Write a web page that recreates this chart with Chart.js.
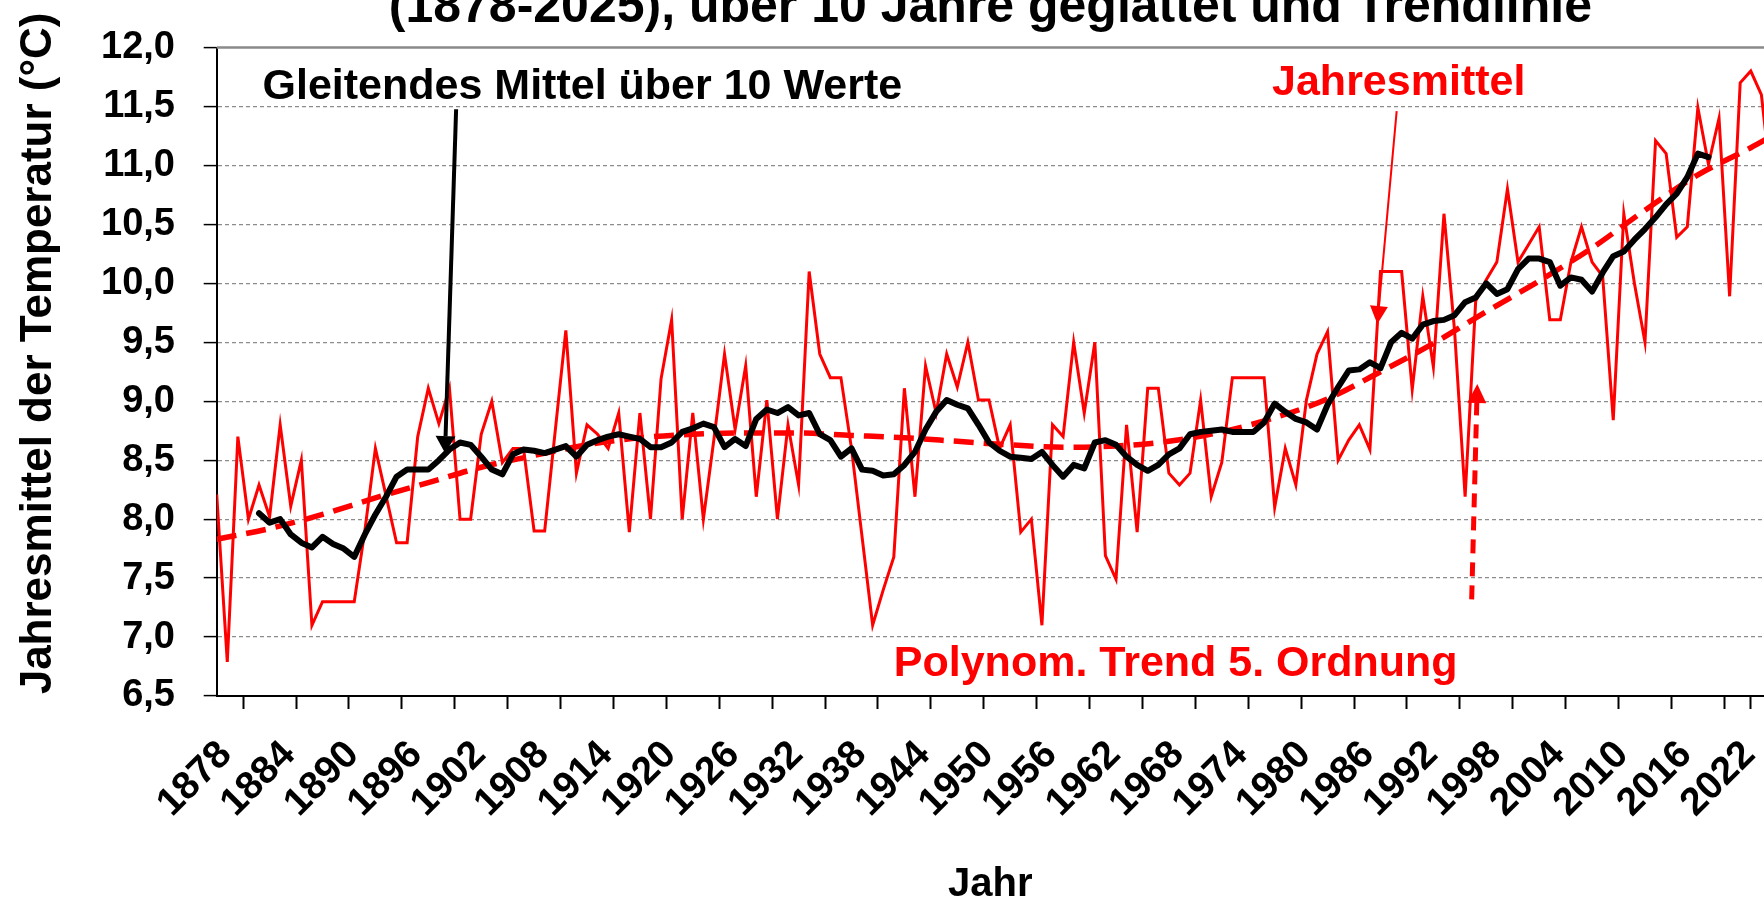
<!DOCTYPE html>
<html>
<head>
<meta charset="utf-8">
<script src="https://cdn.jsdelivr.net/npm/chart.js"></script>
<style>
  html, body { margin: 0; padding: 0; background: #fff; overflow: hidden; }
  #wrap { width: 1764px; height: 903px; }
</style>
</head>
<body>
<div id="wrap"><canvas id="c" width="1764" height="903"></canvas></div>
<script>
// ---------------- data ----------------
const firstYear = 1878;
// Jahresmittel (°C), 1878 … 2025
const annualMean = [
  8.21, 6.79, 8.70, 8.00, 8.29, 8.02, 8.80, 8.11, 8.50, 7.10,
  7.30, 7.30, 7.30, 7.30, 7.90, 8.60, 8.20, 7.80, 7.80, 8.70,
  9.11, 8.81, 9.11, 8.00, 8.00, 8.72, 9.00, 8.48, 8.60, 8.60,
  7.90, 7.90, 8.75, 9.60, 8.39, 8.80, 8.72, 8.60, 8.90, 7.89,
  8.90, 8.00, 9.19, 9.69, 8.00, 8.90, 8.00, 8.68, 9.40, 8.76,
  9.30, 8.19, 9.01, 8.00, 8.80, 8.29, 10.10, 9.40, 9.20, 9.20,
  8.60, 7.85, 7.10, 7.40, 7.68, 9.11, 8.19, 9.30, 8.90, 9.40,
  9.12, 9.50, 9.01, 9.01, 8.60, 8.80, 7.89, 8.00, 7.10, 8.80,
  8.70, 9.50, 8.90, 9.50, 7.69, 7.49, 8.80, 7.89, 9.11, 9.11,
  8.39, 8.29, 8.39, 9.01, 8.19, 8.48, 9.20, 9.20, 9.20, 9.20,
  8.10, 8.60, 8.29, 9.01, 9.40, 9.59, 8.50, 8.67, 8.80, 8.59,
  10.10, 10.10, 10.10, 9.10, 9.89, 9.29, 10.59, 9.60, 8.19, 9.85,
  10.03, 10.18, 10.80, 10.18, 10.33, 10.48, 9.69, 9.69, 10.18, 10.48,
  10.18, 10.06, 8.84, 10.59, 10.00, 9.50, 11.21, 11.10, 10.39, 10.48,
  11.49, 11.01, 11.40, 9.89, 11.70, 11.80, 11.60, 10.80
];
const years = annualMean.map((_, i) => firstYear + i);

// Gleitendes Mittel über 10 Werte, 1882 … 2019
const movingAvgStart = 1882;
const movingAvg = [
  8.05, 7.97, 8.00, 7.87, 7.80, 7.76, 7.85, 7.79, 7.75, 7.68,
  7.87, 8.04, 8.19, 8.36, 8.42, 8.42, 8.42, 8.50, 8.59, 8.65,
  8.63, 8.53, 8.42, 8.38, 8.55, 8.59, 8.58, 8.56, 8.59, 8.62,
  8.53, 8.63, 8.67, 8.70, 8.72, 8.70, 8.68, 8.61, 8.61, 8.65,
  8.74, 8.77, 8.81, 8.78, 8.61, 8.68, 8.62, 8.85, 8.93, 8.90,
  8.95, 8.88, 8.90, 8.72, 8.67, 8.53, 8.60, 8.42, 8.41, 8.37,
  8.38, 8.46, 8.57, 8.76, 8.91, 9.01, 8.97, 8.94, 8.80, 8.65,
  8.58, 8.53, 8.52, 8.51, 8.57, 8.46, 8.36, 8.46, 8.43, 8.65,
  8.67, 8.63, 8.53, 8.46, 8.41, 8.46, 8.55, 8.60, 8.72, 8.74,
  8.75, 8.76, 8.74, 8.74, 8.74, 8.82, 8.98, 8.91, 8.85, 8.82,
  8.76, 8.97, 9.12, 9.26, 9.27, 9.33, 9.28, 9.50, 9.58, 9.53,
  9.65, 9.68, 9.69, 9.73, 9.84, 9.88, 10.00, 9.91, 9.95, 10.12,
  10.21, 10.21, 10.18, 9.98, 10.05, 10.03, 9.93, 10.09, 10.23, 10.27,
  10.37, 10.46, 10.56, 10.67, 10.76, 10.90, 11.10, 11.07
];
const movingAvgYears = movingAvg.map((_, i) => movingAvgStart + i);

// Polynom. Trend 5. Ordnung
const trendYears = [1878, 1883, 1888, 1893, 1898, 1903, 1908, 1913, 1918, 1923, 1928, 1933, 1938, 1943, 1948,
  1953, 1958, 1963, 1968, 1973, 1978, 1983, 1988, 1993, 1998, 2003, 2008, 2013, 2018, 2023, 2025];
const trendValues = [7.83, 7.92, 8.04, 8.18, 8.31, 8.44, 8.54, 8.63, 8.69, 8.72, 8.73, 8.73, 8.71, 8.69, 8.66,
  8.63, 8.61, 8.62, 8.66, 8.74, 8.86, 9.02, 9.25, 9.49, 9.76, 10.02, 10.30, 10.62, 10.92, 11.15, 11.25];

// axis
const labelYears = [1878, 1884, 1890, 1896, 1902, 1908, 1914, 1920, 1926, 1932, 1938, 1944, 1950,
  1956, 1962, 1968, 1974, 1980, 1986, 1992, 1998, 2004, 2010, 2016, 2022];
const tickMarkYears = [1880.5, 1885.5, 1890.5, 1895.5, 1900.5, 1905.5, 1910.5, 1915.5, 1920.5, 1925.5,
  1930.5, 1935.5, 1940.5, 1945.5, 1950.5, 1955.5, 1960.5, 1965.5, 1970.5, 1975.5, 1980.5, 1985.5,
  1990.5, 1995.5, 2000.5, 2005.5, 2010.5, 2015.5, 2020.5, 2023];
const yTickLabels = ['6,5','7,0','7,5','8,0','8,5','9,0','9,5','10,0','10,5','11,0','11,5','12,0'];

// ---------------- texts / annotations ----------------
const TITLE = '(1878-2025), über 10 Jahre geglättet und Trendlinie';
const FONT = "'Liberation Sans', Arial, Helvetica, sans-serif";

const notes = [
  { text: 'Gleitendes Mittel über 10 Werte', x: 1882.33, y: 11.563, color: '#000000' },
  { text: 'Jahresmittel', x: 1977.75, y: 11.60, color: '#ff0000' },
  { text: 'Polynom. Trend 5. Ordnung', x: 1942.0, y: 6.67, color: '#ff0000' }
];
const arrows = [
  { from: [1900.63, 11.476], to: [1899.58, 8.56], color: '#000000', width: 4, dash: [], head: 17, headW: 20 },
  { from: [1989.53, 11.46], to: [1987.7, 9.655], color: '#ff0000', width: 2, dash: [], head: 18, headW: 18 },
  { from: [1996.62, 7.32], to: [1997.15, 9.146], color: '#ff0000', width: 5, dash: [14, 9], head: 19, headW: 19 }
];

function drawArrow(ctx, x1, y1, x2, y2, a) {
  const ang = Math.atan2(y2 - y1, x2 - x1);
  const bx = x2 - Math.cos(ang) * a.head, by = y2 - Math.sin(ang) * a.head;
  ctx.save();
  ctx.strokeStyle = a.color; ctx.fillStyle = a.color;
  ctx.lineWidth = a.width; ctx.setLineDash(a.dash); ctx.lineCap = 'butt';
  ctx.beginPath(); ctx.moveTo(x1, y1); ctx.lineTo(bx, by); ctx.stroke();
  ctx.setLineDash([]);
  const nx = -Math.sin(ang) * a.headW / 2, ny = Math.cos(ang) * a.headW / 2;
  ctx.beginPath();
  ctx.moveTo(x2, y2); ctx.lineTo(bx + nx, by + ny); ctx.lineTo(bx - nx, by - ny); ctx.closePath();
  ctx.fill();
  ctx.restore();
}

const annotationPlugin = {
  id: 'annotationPlugin',
  beforeDatasetsDraw(chart) {
    const { ctx, chartArea } = chart;
    ctx.save();
    ctx.strokeStyle = '#8a8a8a'; ctx.lineWidth = 2.5;
    ctx.beginPath(); ctx.moveTo(chartArea.left, chartArea.top); ctx.lineTo(chartArea.right, chartArea.top); ctx.stroke();
    ctx.restore();
  },
  afterDatasetsDraw(chart) {
    const { ctx } = chart;
    const xs = chart.scales.x, ys = chart.scales.y;
    ctx.save();
    ctx.font = 'bold 43px ' + FONT;
    ctx.textAlign = 'left'; ctx.textBaseline = 'alphabetic';
    notes.forEach(n => { ctx.fillStyle = n.color; ctx.fillText(n.text, xs.getPixelForValue(n.x), ys.getPixelForValue(n.y)); });
    ctx.restore();
    arrows.forEach(a => drawArrow(ctx,
      xs.getPixelForValue(a.from[0]), ys.getPixelForValue(a.from[1]),
      xs.getPixelForValue(a.to[0]), ys.getPixelForValue(a.to[1]), a));
  }
};

Chart.defaults.font.family = FONT;
Chart.defaults.color = '#000';

new Chart(document.getElementById('c'), {
  type: 'line',
  data: {
    datasets: [
      { label: 'Gleitendes Mittel über 10 Werte',
        data: movingAvgYears.map((yr, i) => ({ x: yr, y: movingAvg[i] })),
        borderColor: '#000000', borderWidth: 6, pointRadius: 0, tension: 0,
        borderJoinStyle: 'round', borderCapStyle: 'round' },
      { label: 'Polynom. Trend 5. Ordnung',
        data: trendYears.map((yr, i) => ({ x: yr, y: trendValues[i] })),
        borderColor: '#ff0000', borderWidth: 5.5, borderDash: [20, 10], pointRadius: 0,
        cubicInterpolationMode: 'monotone' },
      { label: 'Jahresmittel',
        data: years.map((yr, i) => ({ x: yr, y: annualMean[i] })),
        borderColor: '#ff0000', borderWidth: 3, pointRadius: 0, tension: 0 }
    ]
  },
  options: {
    responsive: false,
    animation: false,
    devicePixelRatio: 1,
    layout: { padding: { top: 0, left: 0, right: 0, bottom: 0 } },
    plugins: {
      legend: { display: false },
      tooltip: { enabled: false },
      title: {
        display: true, text: TITLE, fullSize: false, color: '#000',
        font: { family: FONT, size: 50, weight: 'bold', lineHeight: 1 },
        padding: { top: -16.5, bottom: 14 }
      }
    },
    scales: {
      x: {
        type: 'linear', min: 1878, max: 2024.25,
        afterBuildTicks: s => { s.ticks = labelYears.concat(tickMarkYears).sort((a, b) => a - b).map(v => ({ value: v })); },
        afterFit: s => { s.height = 207; s.paddingLeft = 0; s.paddingRight = 0; },
        ticks: {
          autoSkip: false, maxRotation: 45, minRotation: 45, padding: 23, labelOffset: 9,
          color: '#000', font: { family: FONT, size: 39, weight: 'bold' },
          callback: v => labelYears.includes(v) ? String(v) : ''
        },
        grid: {
          drawOnChartArea: false, drawTicks: true, tickLength: 13, tickWidth: 2,
          tickColor: c => (c.tick && labelYears.includes(c.tick.value)) ? 'rgba(0,0,0,0)' : '#000'
        },
        border: { display: true, color: '#000', width: 2 },
        title: {
          display: true, text: 'Jahr', color: '#000',
          font: { family: FONT, size: 40, weight: 'bold', lineHeight: 1 },
          padding: { top: 0, bottom: -2 }
        }
      },
      y: {
        min: 6.5, max: 12,
        afterFit: s => { s.width = 216.7; s.paddingTop = 0; s.paddingBottom = 0; },
        ticks: {
          stepSize: 0.5, padding: 28.7, color: '#000',
          font: { family: FONT, size: 38, weight: 'bold' },
          callback: (v) => { const i = Math.round((v - 6.5) / 0.5); return yTickLabels[i] ?? ''; }
        },
        grid: {
          color: c => (c.tick && (c.tick.value === 12 || c.tick.value === 6.5)) ? 'rgba(0,0,0,0)' : '#8c8c8c',
          lineWidth: 1.2, drawTicks: true, tickLength: 13, tickWidth: 1.5, tickColor: '#000', tickBorderDash: []
        },
        border: { display: true, color: '#000', width: 2, dash: [4, 3] },
        title: {
          display: true, text: '   Jahresmittel der Temperatur (°C)', color: '#000',
          font: { family: FONT, size: 44, weight: 'bold', lineHeight: 1 },
          padding: { top: 17, bottom: 0 }
        }
      }
    }
  },
  plugins: [annotationPlugin]
});
</script>
</body>
</html>
